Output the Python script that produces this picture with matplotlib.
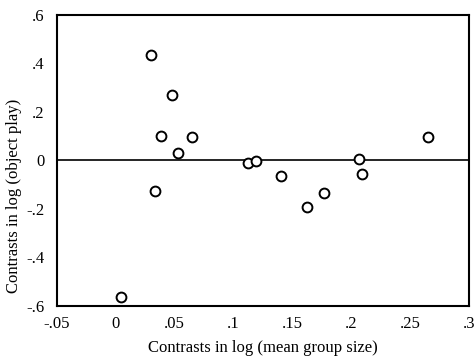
import matplotlib
matplotlib.use("Agg")
import matplotlib.pyplot as plt

# contrasts
group_size = [0.030, 0.048, 0.0386, 0.065, 0.053, 0.033, 0.0045,
              0.112, 0.119, 0.1405, 0.2067, 0.209, 0.265, 0.177, 0.162]
object_play = [0.433, 0.268, 0.099, 0.095, 0.029, -0.124, -0.561,
               -0.012, -0.004, -0.062, 0.007, -0.055, 0.095, -0.133, -0.19]

x_ticks = [-0.05, 0, 0.05, 0.1, 0.15, 0.2, 0.25, 0.3]
x_labels = ["-.05", "0", ".05", ".1", ".15", ".2", ".25", ".3"]
y_ticks = [-0.6, -0.4, -0.2, 0, 0.2, 0.4, 0.6]
y_labels = ["-.6", "-.4", "-.2", "0", ".2", ".4", ".6"]

plt.rcParams["font.family"] = ["Liberation Serif", "DejaVu Serif"]

fig = plt.figure(figsize=(4.76, 3.62), dpi=100)
ax = fig.add_axes([0.12, 0.1547, 0.865, 0.804])

ax.axhline(0, color="black", linewidth=1.2, zorder=1)
ax.scatter(group_size, object_play, s=50, facecolors="white",
           edgecolors="black", linewidths=1.4, zorder=2)

ax.set_xlim(-0.05, 0.3)
ax.set_ylim(-0.6, 0.6)
ax.set_xticks(x_ticks)
ax.set_xticklabels(x_labels)
ax.set_yticks(y_ticks)
ax.set_yticklabels(y_labels)
ax.tick_params(axis="x", length=0, labelsize=12, pad=7)
ax.tick_params(axis="y", length=0, labelsize=12, pad=9)

for spine in ax.spines.values():
    spine.set_linewidth(1.5)

ax.set_xlabel("Contrasts in log (mean group size)", fontsize=12, labelpad=6)
ax.set_ylabel("Contrasts in log (object play)", fontsize=12)
# label sits a bit below the axis middle in the original
ax.yaxis.set_label_coords(-0.085, 0.38)

fig.savefig("out.png", dpi=100)
